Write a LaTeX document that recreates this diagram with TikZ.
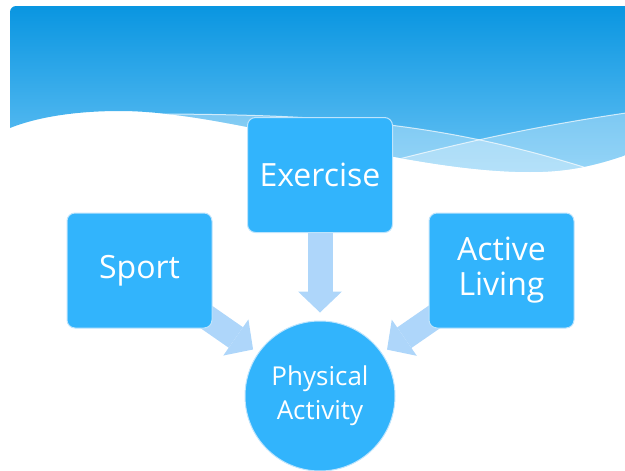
\documentclass[tikz,border=0pt]{standalone}
\usepackage{fontspec}
\setmainfont{Open Sans}
\usetikzlibrary{arrows.meta}
\definecolor{boxblue}{RGB}{50,180,252}
\definecolor{arrowblue}{RGB}{174,214,250}
\definecolor{headtop}{RGB}{6,148,224}
\definecolor{headbot}{RGB}{105,195,245}
\definecolor{edgeblue}{RGB}{190,228,252}
\pgfdeclarelayer{back}
\pgfdeclarelayer{links}
\pgfsetlayers{back,links,main}
\begin{document}
\begin{tikzpicture}[x=1pt,y=-1pt,
  box/.style={draw=edgeblue, line width=1pt, fill=boxblue, rounded corners=8pt,
    minimum width=145pt, minimum height=115pt, text=white, align=center,
    font=\fontsize{32}{35}\selectfont, inner sep=0pt},
  hub/.style={circle, draw=edgeblue, line width=1pt, fill=boxblue, minimum size=150pt,
    text=white, align=center, font=\fontsize{26}{34}\selectfont, inner sep=0pt},
  flow/.style={draw=arrowblue, line width=25pt,
    -{Triangle[width=44pt,length=21pt,line width=0pt]}},
  sheen/.style={white, opacity=.3},
  streak/.style={white, opacity=.7, line width=1pt}]
\useasboundingbox (0,0) rectangle (625,471);

% banner with a wavy lower edge
\begin{pgfonlayer}{back}
\begin{scope}
  \clip (10,128) [rounded corners=6pt] -- (10,6) -- (640,6) [sharp corners] -- (640,150)
    .. controls (600,165) and (570,172) .. (530,172)
    .. controls (400,172) and (230,111) .. (120,111)
    .. controls (80,111) and (40,116) .. (10,128) -- cycle;
  \shade[top color=headtop, bottom color=headbot] (0,0) rectangle (640,175);
  \fill[sheen] (165,114) .. controls (330,115) and (440,122) .. (590,169)
    -- (590,200) -- (165,200) -- cycle;
  \fill[sheen] (395,160) .. controls (470,141) and (540,125) .. (640,111)
    -- (640,200) -- (395,200) -- cycle;
  \draw[streak] (165,114) .. controls (330,115) and (440,122) .. (590,169);
  \draw[streak] (395,160) .. controls (470,141) and (540,125) .. (640,111);
\end{scope}
\end{pgfonlayer}

% nodes
\node[box] (exercise) at (320,175) {Exercise};
\node[box] (sport) at (139.5,270.5) {Sport};
\node[box] (living) at (501.5,270.5) {Active\\Living};
\node[hub] (pa) at (320,396) {Physical\\Activity};

% block arrows into the hub
\begin{pgfonlayer}{links}
  \draw[flow, shorten >=8pt] (exercise.center) -- (pa);
  \draw[flow, shorten >=6pt] (sport.center) -- (pa);
  \draw[flow, shorten >=6pt] (living.center) -- (pa);
\end{pgfonlayer}
\end{tikzpicture}
\end{document}
